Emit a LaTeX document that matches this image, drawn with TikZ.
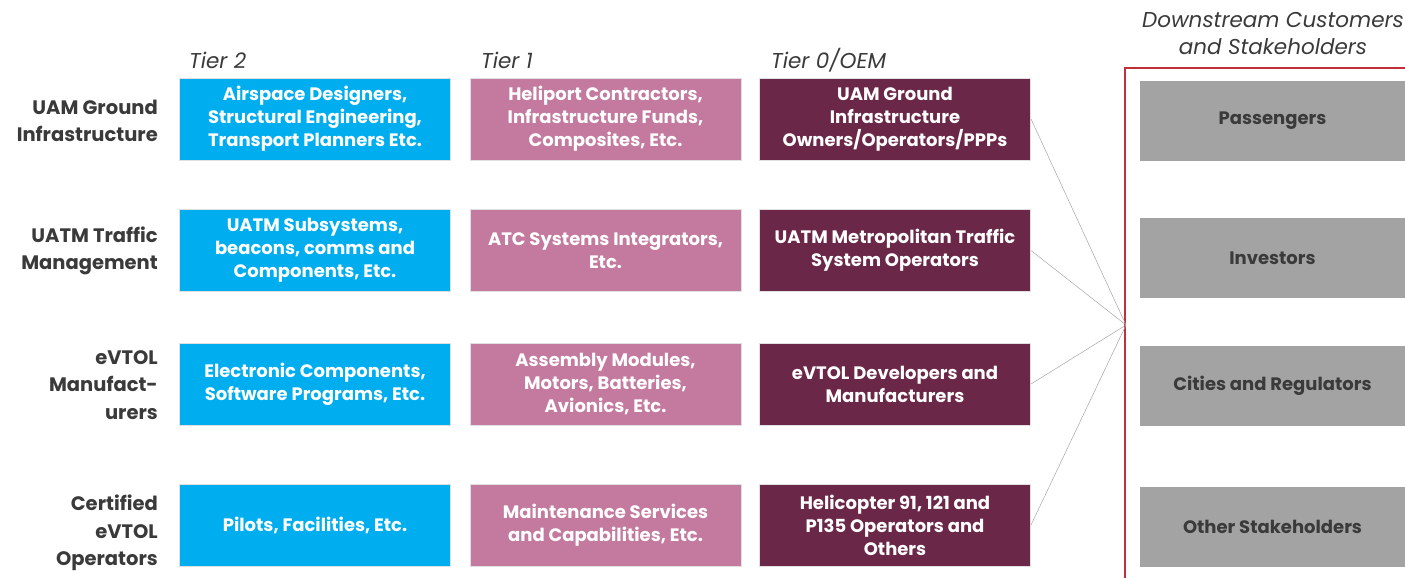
\documentclass[tikz,border=0pt]{standalone}
\usepackage{fontspec}
\setmainfont{Poppins}
\definecolor{tiertwo}{HTML}{00AEEF}
\definecolor{tierone}{HTML}{C47A9F}
\definecolor{tierzero}{HTML}{6B2747}
\definecolor{stakegray}{HTML}{A3A3A3}
\definecolor{framered}{HTML}{C0303A}
\definecolor{labelgray}{HTML}{3A3A3A}
\tikzset{
  tierbox/.style={minimum width=271pt,minimum height=82pt,inner sep=0pt,
    draw=black!12,line width=1pt,align=center,text=white,
    font=\fontsize{18}{23}\selectfont\bfseries},
  stakebox/.style={minimum width=265pt,minimum height=80pt,inner sep=0pt,
    fill=stakegray,text=labelgray,font=\fontsize{18}{23}\selectfont\bfseries},
  rowlabel/.style={anchor=east,align=right,inner sep=0pt,text=labelgray,
    font=\fontsize{19.5}{27.5}\selectfont\bfseries},
  tierlabel/.style={anchor=west,inner sep=0pt,text=labelgray,
    font=\fontsize{21.5}{27}\selectfont\itshape},
  hubline/.style={black!35,line width=0.5pt}
}
\begin{document}
\begin{tikzpicture}[x=1pt,y=-1pt]
  \useasboundingbox (0,0) rectangle (1405,578);
  % headings
  \node[tierlabel] (h2) at (189,60) {Tier 2};
  \node[tierlabel] (h1) at (481,60) {Tier 1};
  \node[tierlabel] (h0) at (771,60) {Tier 0/OEM};
  \node[tierlabel,anchor=center,align=center] (hd) at (1273,34)
    {Downstream Customers\\and Stakeholders};
  % row labels
  \node[rowlabel] (r1) at (158,121) {UAM Ground\\Infrastructure};
  \node[rowlabel] (r2) at (158,251) {UATM Traffic\\Management};
  \node[rowlabel] (r3) at (158,385) {eVTOL\\Manufact-\\urers};
  \node[rowlabel] (r4) at (158,533) {Certified\\eVTOL\\Operators};
  % tier 2
  \node[tierbox,fill=tiertwo] (a1) at (315,119)
    {Airspace Designers,\\Structural Engineering,\\Transport Planners Etc.};
  \node[tierbox,fill=tiertwo] (a2) at (315,250.5)
    {UATM Subsystems,\\beacons, comms and\\Components, Etc.};
  \node[tierbox,fill=tiertwo] (a3) at (315,384)
    {Electronic Components,\\Software Programs, Etc.};
  \node[tierbox,fill=tiertwo] (a4) at (315,525) {Pilots, Facilities, Etc.};
  % tier 1
  \node[tierbox,fill=tierone] (b1) at (605.5,119)
    {Heliport Contractors,\\Infrastructure Funds,\\Composites, Etc.};
  \node[tierbox,fill=tierone] (b2) at (605.5,250.5)
    {ATC Systems Integrators,\\Etc.};
  \node[tierbox,fill=tierone] (b3) at (605.5,384)
    {Assembly Modules,\\Motors, Batteries,\\Avionics, Etc.};
  \node[tierbox,fill=tierone] (b4) at (605.5,525)
    {Maintenance Services\\and Capabilities, Etc.};
  % tier 0
  \node[tierbox,fill=tierzero] (c1) at (895,119)
    {UAM Ground\\Infrastructure\\Owners/Operators/PPPs};
  \node[tierbox,fill=tierzero] (c2) at (895,250.5)
    {UATM Metropolitan Traffic\\System Operators};
  \node[tierbox,fill=tierzero] (c3) at (895,384)
    {eVTOL Developers and\\Manufacturers};
  \node[tierbox,fill=tierzero] (c4) at (895,525)
    {Helicopter 91, 121 and\\P135 Operators and\\Others};
  % downstream
  \draw[framered,line width=1.5pt] (1125,68) rectangle (1412,590);
  \node[stakebox] (s1) at (1272.5,120.5) {Passengers};
  \node[stakebox] (s2) at (1272.5,258) {Investors};
  \node[stakebox] (s3) at (1272.5,385.5) {Cities and Regulators};
  \node[stakebox] (s4) at (1272.5,527) {Other Stakeholders};
  \coordinate (hub) at (1126,325);
  \foreach \n in {c1,c2,c3,c4}
    \draw[hubline] (\n.east) -- (hub);
\end{tikzpicture}
\end{document}
